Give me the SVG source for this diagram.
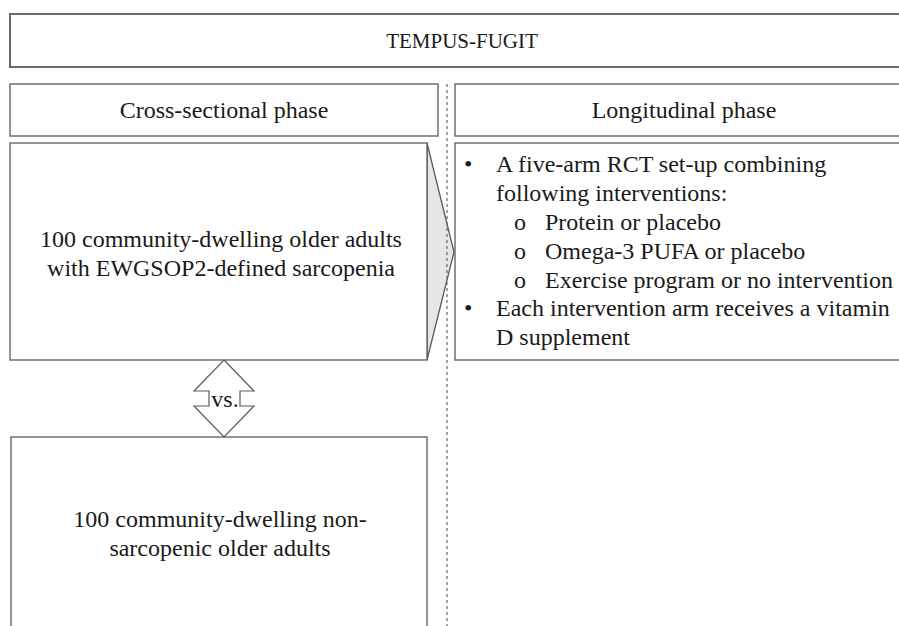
<svg xmlns="http://www.w3.org/2000/svg" width="899" height="626" viewBox="0 0 899 626">
<style>
.box{fill:#fff;stroke:#5a5a5a;stroke-width:1.3}
.top{fill:#fff;stroke:#6a6a6a;stroke-width:2}
.t{font-family:"Liberation Serif","Times New Roman",serif;font-size:24px;fill:#1a1a1a}
.c{text-anchor:middle}
</style>
<rect width="899" height="626" fill="#fff"/>
<g id="title">
<rect class="top" x="10" y="14" width="910" height="53"/>
<text class="t c" x="462" y="48" style="font-size:21px">TEMPUS-FUGIT</text>
</g>
<g id="cross-header">
<rect class="box" x="10" y="84" width="428" height="52"/>
<text class="t c" x="224" y="118">Cross-sectional phase</text>
</g>
<g id="long-header">
<rect class="box" x="455" y="84" width="460" height="52"/>
<text class="t c" x="684" y="118">Longitudinal phase</text>
</g>
<g id="connectors">
<polygon points="427,143 454,252 427,360" fill="#e6e6e6" stroke="#5a5a5a" stroke-width="1.3"/>
<polygon points="224,360 254,391 240,391 240,406 254,406 224,437 194,406 209,406 209,391 194,391" fill="#fff" stroke="#5a5a5a" stroke-width="1.2"/>
<text class="t c" x="225" y="407">vs.</text>
<line x1="447" y1="84" x2="447" y2="626" stroke="#666" stroke-width="1.2" stroke-dasharray="3,3"/>
</g>
<g id="sarcopenic">
<rect class="box" x="10" y="143" width="417" height="217"/>
<text class="t c" x="221" y="247">100 community-dwelling older adults</text>
<text class="t c" x="221" y="276">with EWGSOP2-defined sarcopenia</text>
</g>
<g id="longitudinal">
<rect class="box" x="455" y="143" width="460" height="217"/>
<text class="t" x="464" y="172">•</text>
<text class="t" x="496" y="172">A five-arm RCT set-up combining</text>
<text class="t" x="496" y="201">following interventions:</text>
<text class="t" x="514" y="230">o</text>
<text class="t" x="545" y="230">Protein or placebo</text>
<text class="t" x="514" y="259">o</text>
<text class="t" x="545" y="259">Omega-3 PUFA or placebo</text>
<text class="t" x="514" y="288">o</text>
<text class="t" x="545" y="288">Exercise program or no intervention</text>
<text class="t" x="464" y="316">•</text>
<text class="t" x="496" y="316">Each intervention arm receives a vitamin</text>
<text class="t" x="496" y="345">D supplement</text>
</g>
<g id="non-sarcopenic">
<rect class="box" x="11" y="437" width="416" height="210"/>
<text class="t c" x="220" y="527">100 community-dwelling non-</text>
<text class="t c" x="220" y="556">sarcopenic older adults</text>
</g>
</svg>
